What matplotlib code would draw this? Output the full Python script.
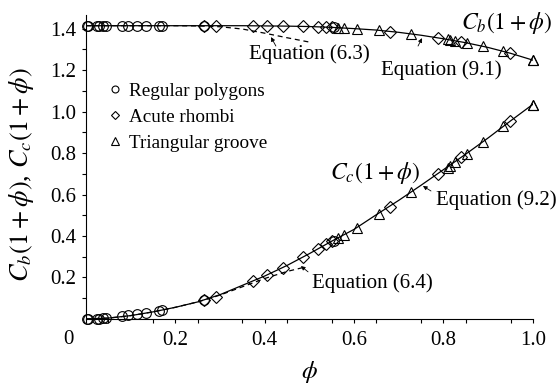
import numpy as np
import matplotlib
matplotlib.use('Agg')
import matplotlib.pyplot as plt
from matplotlib.lines import Line2D

plt.rcParams['font.family'] = ['Liberation Serif', 'DejaVu Serif']
plt.rcParams['mathtext.fontset'] = 'stix'

# curves
phi_curve = [0.0, 0.05, 0.1, 0.15, 0.2, 0.25, 0.3, 0.35, 0.4, 0.45, 0.5,
             0.55, 0.6, 0.65, 0.7, 0.75, 0.8, 0.85, 0.9, 0.95, 1.0]
cb_curve = [1.414, 1.414, 1.414, 1.414, 1.414, 1.414, 1.414, 1.414, 1.413, 1.412, 1.410,
            1.406, 1.400, 1.393, 1.382, 1.368, 1.351, 1.332, 1.309, 1.281, 1.248]
cc_curve = [0.0, 0.004, 0.016, 0.034, 0.056, 0.082, 0.117, 0.162, 0.207, 0.258, 0.315,
            0.375, 0.432, 0.503, 0.572, 0.645, 0.72, 0.795, 0.873, 0.955, 1.035]

# Equation (6.3) and (6.4) dashed curves
phi_eq63 = [0.0, 0.1, 0.2, 0.25, 0.3, 0.35, 0.4, 0.45, 0.5]
cb_eq63 = [1.414, 1.414, 1.414, 1.413, 1.409, 1.398, 1.378, 1.356, 1.335]
phi_eq64 = [0.0, 0.05, 0.1, 0.15, 0.2, 0.25, 0.3, 0.35, 0.4, 0.45, 0.49]
cc_eq64 = [0.0, 0.004, 0.016, 0.034, 0.056, 0.082, 0.115, 0.155, 0.195, 0.229, 0.250]

# regular polygons
phi_poly = [0.002, 0.005, 0.024, 0.03, 0.038, 0.045, 0.08, 0.095, 0.115, 0.135, 0.163, 0.17, 0.265, 0.555]
cb_poly = [1.414, 1.414, 1.414, 1.414, 1.414, 1.414, 1.414, 1.414, 1.414, 1.414, 1.414, 1.414, 1.414, 1.406]
cc_poly = [0.0, 0.0, 0.001, 0.002, 0.003, 0.004, 0.012, 0.017, 0.024, 0.03, 0.04, 0.043, 0.09, 0.376]

# acute rhombi
phi_rhomb = [0.265, 0.292, 0.374, 0.404, 0.44, 0.486, 0.52, 0.538, 0.55, 0.68, 0.788, 0.84, 0.948]
cb_rhomb = [1.414, 1.414, 1.413, 1.413, 1.412, 1.411, 1.409, 1.408, 1.407, 1.386, 1.355, 1.335, 1.282]
cc_rhomb = [0.09, 0.108, 0.185, 0.21, 0.248, 0.298, 0.336, 0.36, 0.375, 0.54, 0.70, 0.78, 0.955]

# triangular groove
phi_tri = [0.565, 0.578, 0.607, 0.655, 0.727, 0.81, 0.815, 0.826, 0.852, 0.888, 0.933, 1.0, 1.0]
cb_tri = [1.404, 1.402, 1.399, 1.392, 1.375, 1.348, 1.346, 1.342, 1.331, 1.314, 1.29, 1.248, 1.248]
cc_tri = [0.39, 0.405, 0.44, 0.505, 0.61, 0.73, 0.738, 0.755, 0.795, 0.855, 0.93, 1.03, 1.03]

fig = plt.figure(figsize=(5.58, 3.88), dpi=100)
ax = fig.add_axes([0.154, 0.178, 0.801, 0.783])

ax.plot(phi_curve, cb_curve, color='k', lw=0.9)
ax.plot(phi_curve, cc_curve, color='k', lw=0.9)
ax.plot(phi_eq63, cb_eq63, color='k', lw=0.9, ls=(0, (4, 3)))
ax.plot(phi_eq64, cc_eq64, color='k', lw=0.9, ls=(0, (4, 3)))

mk = dict(ls='none', mfc='none', mec='k', mew=0.8, clip_on=False)
for ys in (cb_poly, cc_poly):
    ax.plot(phi_poly, ys, marker='o', ms=7, **mk)
for ys in (cb_rhomb, cc_rhomb):
    ax.plot(phi_rhomb, ys, marker='D', ms=6.3, **mk)
for ys in (cb_tri, cc_tri):
    ax.plot(phi_tri, ys, marker='^', ms=7.5, **mk)

ax.set_xlim(0, 1.0)
ax.set_ylim(0, 1.465)
ax.spines['top'].set_visible(False)
ax.spines['right'].set_visible(False)
for s in ('left', 'bottom'):
    ax.spines[s].set_linewidth(0.8)

ax.set_xticks([0.0, 0.2, 0.4, 0.6, 0.8, 1.0])
ax.set_xticklabels(['', '0.2', '0.4', '0.6', '0.8', '1.0'])
ax.set_xticks(np.arange(0.05, 1.0, 0.1), minor=True)
ax.set_yticks([0.2, 0.4, 0.6, 0.8, 1.0, 1.2, 1.4])
ax.set_yticklabels(['0.2', '0.4', '0.6', '0.8', '1.0', '1.2', '1.4'])
ax.set_yticks([0.1, 0.3, 0.5, 0.7, 0.9, 1.1, 1.3], minor=True)
ax.tick_params(which='both', direction='out', length=3, width=0.8, labelsize=15)
ax.tick_params(axis='x', pad=6)
ax.tick_params(axis='y', pad=4)
ax.text(-0.04, -0.069, '0', transform=ax.transAxes, ha='center', va='center', fontsize=15)

ax.set_xlabel(r'$\phi$', fontsize=18, va='center')
ax.xaxis.set_label_coords(0.50, -0.174)
ax.set_ylabel(r'$C_b(1+\phi)$, $C_c(1+\phi)$', fontsize=19, va='center')
ax.yaxis.set_label_coords(-0.145, 0.474)

# curve labels and equation annotations
ax.text(0.942, 1.427, r'$C_b(1+\phi)$', ha='center', va='center', fontsize=17)
ax.text(0.647, 0.704, r'$C_c(1+\phi)$', ha='center', va='center', fontsize=17)
ax.text(0.499, 1.277, 'Equation (6.3)', ha='center', va='center', fontsize=15)
ax.text(0.794, 1.200, 'Equation (9.1)', ha='center', va='center', fontsize=15)
ax.text(0.919, 0.573, 'Equation (9.2)', ha='center', va='center', fontsize=15)
ax.text(0.640, 0.173, 'Equation (6.4)', ha='center', va='center', fontsize=15)

arr = dict(arrowstyle='-|>', color='k', lw=0.6, mutation_scale=6, shrinkA=0, shrinkB=0)
ax.annotate('', xy=(0.414, 1.359), xytext=(0.425, 1.316), arrowprops=arr)
ax.annotate('', xy=(0.752, 1.354), xytext=(0.743, 1.316), arrowprops=arr)
ax.annotate('', xy=(0.754, 0.641), xytext=(0.772, 0.617), arrowprops=arr)
ax.annotate('', xy=(0.481, 0.255), xytext=(0.497, 0.227), arrowprops=arr)

handles = [Line2D([], [], marker='o', ms=5, ls='none', mfc='none', mec='k', mew=0.8),
           Line2D([], [], marker='D', ms=4, ls='none', mfc='none', mec='k', mew=0.8),
           Line2D([], [], marker='^', ms=5.5, ls='none', mfc='none', mec='k', mew=0.8)]
ax.legend(handles, ['Regular polygons', 'Acute rhombi', 'Triangular groove'],
          loc='upper left', bbox_to_anchor=(0.043, 0.778), frameon=False, fontsize=13.8,
          borderpad=0, borderaxespad=0, handlelength=1.0, handletextpad=0.25,
          labelspacing=0.45)

plt.savefig('out.png', dpi=100)
